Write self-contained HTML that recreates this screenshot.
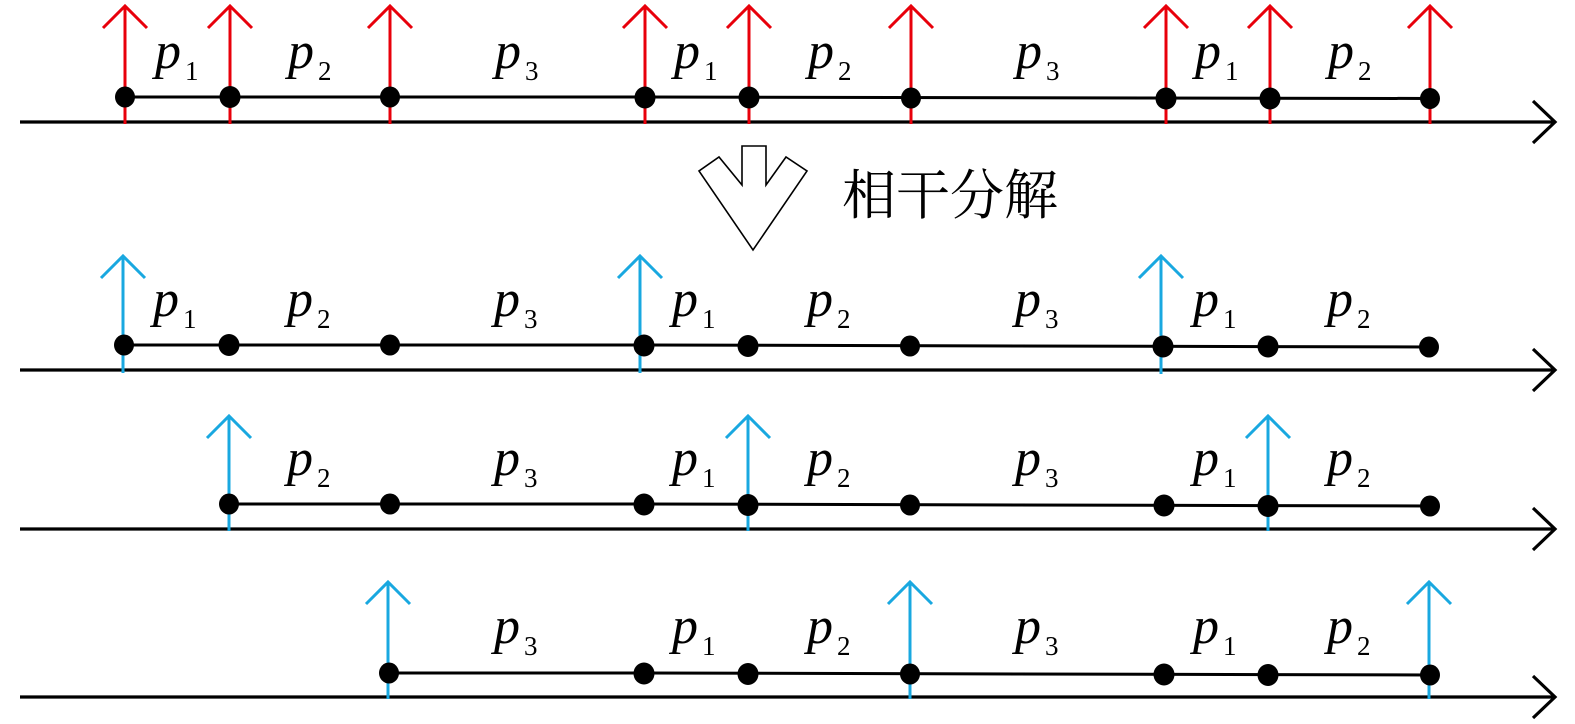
<!DOCTYPE html>
<html>
<head>
<meta charset="utf-8">
<style>
html,body{margin:0;padding:0;background:#fff;}
svg{display:block;}
</style>
</head>
<body>
<svg width="1575" height="724" viewBox="0 0 1575 724" xmlns="http://www.w3.org/2000/svg">
<defs>
<style>
.ax{stroke:#000;stroke-width:3.2;fill:none;}
.ln{stroke:#000;stroke-width:3;fill:none;}
.red{stroke:#e8000b;stroke-width:3;fill:none;}
.blu{stroke:#19a8e0;stroke-width:3;fill:none;}
.p{font-family:"Liberation Serif",serif;font-style:italic;font-size:52px;fill:#000;}
.s{font-family:"Liberation Serif",serif;font-size:27px;fill:#000;}
.cjk{font-family:"Liberation Serif","Noto Serif CJK SC","Noto Sans CJK SC",serif;font-size:54px;fill:#000;}
</style>
</defs>

<!-- ROW 1 -->
<path class="ax" d="M20 122 H1555 M1533 101 L1555 122 L1533 143"/>
<g class="red">
  <path d="M125 124 V6 M103 28 L125 6 L147 28"/>
  <path d="M230 124 V6 M208 28 L230 6 L252 28"/>
  <path d="M390 124 V6 M368 28 L390 6 L412 28"/>
  <path d="M645 124 V6 M623 28 L645 6 L667 28"/>
  <path d="M749 124 V6 M727 28 L749 6 L771 28"/>
  <path d="M911 124 V6 M889 28 L911 6 L933 28"/>
  <path d="M1166 124 V6 M1144 28 L1166 6 L1188 28"/>
  <path d="M1270 124 V6 M1248 28 L1270 6 L1292 28"/>
  <path d="M1430 124 V6 M1408 28 L1430 6 L1452 28"/>
</g>
<path class="ln" d="M125 97 L645 97 L1430 98.5"/>
<g fill="#000">
  <ellipse cx="125" cy="97" rx="10" ry="10.5"/>
  <ellipse cx="230" cy="97" rx="10.5" ry="11"/>
  <ellipse cx="390" cy="97" rx="10" ry="10.5"/>
  <ellipse cx="645" cy="97.5" rx="10.5" ry="11"/>
  <ellipse cx="749" cy="97.5" rx="10.5" ry="11"/>
  <ellipse cx="911" cy="98" rx="10" ry="10.5"/>
  <ellipse cx="1166" cy="98.5" rx="10.5" ry="11"/>
  <ellipse cx="1270" cy="98.5" rx="10.5" ry="11"/>
  <ellipse cx="1430" cy="98.5" rx="10" ry="10.5"/>
</g>
<g>
  <text class="p" x="155" y="68">p</text><text class="s" x="185" y="80">1</text>
  <text class="p" x="288" y="68">p</text><text class="s" x="318" y="80">2</text>
  <text class="p" x="495" y="68">p</text><text class="s" x="525" y="80">3</text>
  <text class="p" x="674" y="68">p</text><text class="s" x="704" y="80">1</text>
  <text class="p" x="808" y="68">p</text><text class="s" x="838" y="80">2</text>
  <text class="p" x="1016" y="68">p</text><text class="s" x="1046" y="80">3</text>
  <text class="p" x="1195" y="68">p</text><text class="s" x="1225" y="80">1</text>
  <text class="p" x="1328" y="68">p</text><text class="s" x="1358" y="80">2</text>
</g>

<!-- Hollow arrow + CJK -->
<polygon points="742,146 766,146 766,185 786,157 807,171 753,250 699,171 719,157 742,185" fill="#fff" stroke="#000" stroke-width="1.6" stroke-linejoin="miter"/>
<text class="cjk" x="842" y="214">相干分解</text>

<!-- ROW 2 -->
<path class="ax" d="M20 370 H1555 M1533 349 L1555 370 L1533 391"/>
<g class="blu">
  <path d="M123 373 V256 M101 278 L123 256 L145 278"/>
  <path d="M640 373 V256 M618 278 L640 256 L662 278"/>
  <path d="M1161 374 V256 M1139 278 L1161 256 L1183 278"/>
</g>
<path class="ln" d="M124 345 L645 345 L1430 347"/>
<g fill="#000">
  <ellipse cx="124" cy="345" rx="10" ry="10.5"/>
  <ellipse cx="229" cy="345" rx="10.5" ry="11"/>
  <ellipse cx="390" cy="345" rx="10" ry="10.5"/>
  <ellipse cx="644" cy="345.5" rx="10.5" ry="11"/>
  <ellipse cx="748" cy="346" rx="10.5" ry="11"/>
  <ellipse cx="910" cy="346" rx="10" ry="10.5"/>
  <ellipse cx="1163" cy="346.5" rx="10.5" ry="11"/>
  <ellipse cx="1268" cy="346.5" rx="10.5" ry="11"/>
  <ellipse cx="1429" cy="347" rx="10" ry="10.5"/>
</g>
<g>
  <text class="p" x="153" y="316">p</text><text class="s" x="183" y="328">1</text>
  <text class="p" x="287" y="316">p</text><text class="s" x="317" y="328">2</text>
  <text class="p" x="494" y="316">p</text><text class="s" x="524" y="328">3</text>
  <text class="p" x="672" y="316">p</text><text class="s" x="702" y="328">1</text>
  <text class="p" x="807" y="316">p</text><text class="s" x="837" y="328">2</text>
  <text class="p" x="1015" y="316">p</text><text class="s" x="1045" y="328">3</text>
  <text class="p" x="1193" y="316">p</text><text class="s" x="1223" y="328">1</text>
  <text class="p" x="1327" y="316">p</text><text class="s" x="1357" y="328">2</text>
</g>

<!-- ROW 3 -->
<path class="ax" d="M20 529 H1555 M1533 508 L1555 529 L1533 550"/>
<g class="blu">
  <path d="M229 531 V416 M207 438 L229 416 L251 438"/>
  <path d="M748 531 V416 M726 438 L748 416 L770 438"/>
  <path d="M1268 531 V416 M1246 438 L1268 416 L1290 438"/>
</g>
<path class="ln" d="M229 504 L644 504 L1430 506"/>
<g fill="#000">
  <ellipse cx="229" cy="504" rx="10" ry="10.5"/>
  <ellipse cx="390" cy="504" rx="10" ry="10.5"/>
  <ellipse cx="644" cy="504.5" rx="10.5" ry="11"/>
  <ellipse cx="748" cy="505" rx="10.5" ry="11"/>
  <ellipse cx="910" cy="505" rx="10" ry="10.5"/>
  <ellipse cx="1164" cy="505.5" rx="10.5" ry="11"/>
  <ellipse cx="1268" cy="506" rx="10.5" ry="11"/>
  <ellipse cx="1430" cy="506" rx="10" ry="10.5"/>
</g>
<g>
  <text class="p" x="287" y="475">p</text><text class="s" x="317" y="487">2</text>
  <text class="p" x="494" y="475">p</text><text class="s" x="524" y="487">3</text>
  <text class="p" x="672" y="475">p</text><text class="s" x="702" y="487">1</text>
  <text class="p" x="807" y="475">p</text><text class="s" x="837" y="487">2</text>
  <text class="p" x="1015" y="475">p</text><text class="s" x="1045" y="487">3</text>
  <text class="p" x="1193" y="475">p</text><text class="s" x="1223" y="487">1</text>
  <text class="p" x="1327" y="475">p</text><text class="s" x="1357" y="487">2</text>
</g>

<!-- ROW 4 -->
<path class="ax" d="M20 697 H1555 M1533 676 L1555 697 L1533 718"/>
<g class="blu">
  <path d="M388 699 V582 M366 604 L388 582 L410 604"/>
  <path d="M910 699 V582 M888 604 L910 582 L932 604"/>
  <path d="M1429 699 V582 M1407 604 L1429 582 L1451 604"/>
</g>
<path class="ln" d="M389 673 L644 673 L1430 675"/>
<g fill="#000">
  <ellipse cx="389" cy="673" rx="10" ry="10.5"/>
  <ellipse cx="644" cy="673.5" rx="10.5" ry="11"/>
  <ellipse cx="748" cy="674" rx="10.5" ry="11"/>
  <ellipse cx="910" cy="674" rx="10" ry="10.5"/>
  <ellipse cx="1164" cy="674.5" rx="10.5" ry="11"/>
  <ellipse cx="1268" cy="675" rx="10.5" ry="11"/>
  <ellipse cx="1430" cy="675" rx="10" ry="10.5"/>
</g>
<g>
  <text class="p" x="494" y="643">p</text><text class="s" x="524" y="655">3</text>
  <text class="p" x="672" y="643">p</text><text class="s" x="702" y="655">1</text>
  <text class="p" x="807" y="643">p</text><text class="s" x="837" y="655">2</text>
  <text class="p" x="1015" y="643">p</text><text class="s" x="1045" y="655">3</text>
  <text class="p" x="1193" y="643">p</text><text class="s" x="1223" y="655">1</text>
  <text class="p" x="1327" y="643">p</text><text class="s" x="1357" y="655">2</text>
</g>
</svg>
</body>
</html>
